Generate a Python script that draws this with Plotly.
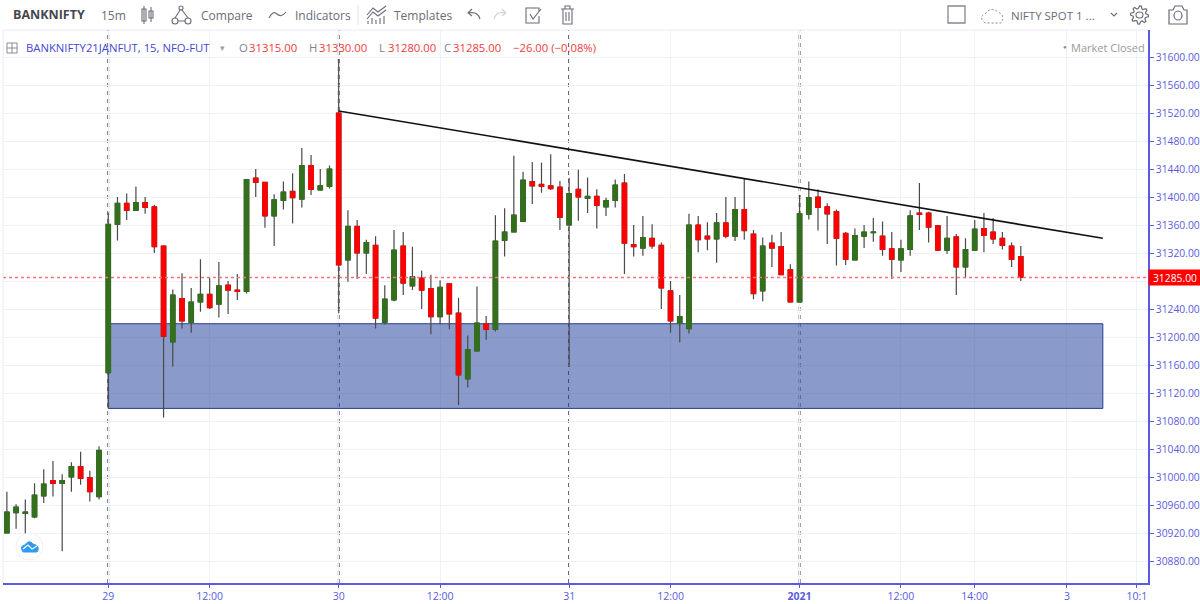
import math
import plotly.graph_objs as go

# candle index, 0 is the first bar of the 29th, one session is 25 bars
bars = list(range(-11, 100))

opens = [30920, 30949, 30948, 30943, 30973, 30995, 30991, 31000, 31015, 30999, 30972,
         31149, 31361, 31391, 31381, 31392, 31386, 31330, 31193, 31255, 31221, 31250, 31261, 31247, 31274, 31267,
         31265, 31427, 31421, 31373, 31395, 31408, 31397, 31445, 31410, 31415,
         31520, 31310, 31358, 31320, 31331, 31221, 31253, 31330, 31273, 31284, 31269, 31229, 31276, 31234, 31140,
         31180, 31219, 31211, 31338, 31350, 31365, 31422, 31418, 31416, 31414, 31360, 31411, 31398, 31401, 31386,
         31395, 31420, 31332, 31327, 31341, 31331, 31266, 31220, 31212,
         31360, 31344, 31340, 31363, 31344, 31382, 31347, 31266, 31334, 31329, 31296, 31250, 31375, 31400, 31386,
         31379, 31348, 31310, 31344, 31349, 31344, 31326, 31310, 31325, 31377, 31377, 31359, 31324, 31343, 31300,
         31324, 31355, 31350, 31341, 31330, 31315]
highs = [30979, 30961, 30968, 30991, 31011, 31023, 31004, 31021, 31036, 31009, 31044,
         31378, 31400, 31405, 31415, 31400, 31389, 31331, 31268, 31291, 31270, 31311, 31285, 31307, 31280, 31290,
         31425, 31440, 31421, 31404, 31422, 31434, 31470, 31460, 31440, 31445,
         31597, 31381, 31367, 31339, 31344, 31274, 31353, 31350, 31329, 31295, 31289, 31281, 31276, 31256, 31202,
         31272, 31230, 31374, 31384, 31459, 31436, 31450, 31449, 31461, 31423, 31427, 31439, 31428, 31411, 31399,
         31425, 31433, 31360, 31373, 31361, 31335, 31280, 31260, 31376,
         31373, 31364, 31377, 31400, 31400, 31426, 31353, 31342, 31346, 31350, 31304, 31403, 31422, 31411, 31391,
         31382, 31350, 31355, 31360, 31370, 31365, 31350, 31339, 31381, 31420, 31379, 31360, 31373, 31347, 31341,
         31367, 31377, 31370, 31350, 31335, 31330]
lows = [30920, 30926, 30918, 30941, 30963, 30972, 30894, 30979, 30989, 30965, 30968,
        31099, 31338, 31367, 31381, 31376, 31320, 31085, 31158, 31212, 31206, 31236, 31240, 31228, 31233, 31253,
        31262, 31400, 31356, 31330, 31382, 31362, 31385, 31403, 31409, 31412,
        31234, 31279, 31283, 31290, 31212, 31218, 31251, 31260, 31267, 31240, 31204, 31218, 31211, 31103, 31128,
        31180, 31196, 31208, 31315, 31350, 31365, 31390, 31406, 31410, 31353, 31157, 31366, 31377, 31355, 31373,
        31385, 31290, 31315, 31316, 31326, 31240, 31206, 31192, 31205,
        31321, 31324, 31306, 31341, 31337, 31339, 31254, 31251, 31300, 31289, 31250, 31250, 31368, 31352, 31333,
        31302, 31303, 31310, 31327, 31336, 31316, 31283, 31293, 31316, 31353, 31335, 31323, 31319, 31260, 31284,
        31324, 31321, 31333, 31325, 31300, 31280]
closes = [30950, 30957, 30950, 30974, 30990, 30991, 30995, 31015, 30998, 30979, 31038,
          31361, 31391, 31381, 31392, 31385, 31329, 31201, 31260, 31223, 31250, 31261, 31242, 31273, 31267, 31265,
          31425, 31421, 31373, 31396, 31407, 31399, 31445, 31411, 31416, 31440,
          31303, 31358, 31320, 31335, 31227, 31254, 31324, 31277, 31286, 31267, 31229, 31271, 31233, 31146, 31182,
          31220, 31211, 31337, 31350, 31374, 31424, 31416, 31415, 31412, 31371, 31405, 31400, 31401, 31388, 31395,
          31417, 31334, 31329, 31342, 31330, 31270, 31223, 31229, 31360,
          31339, 31340, 31363, 31344, 31382, 31352, 31262, 31330, 31327, 31289, 31250, 31376, 31399, 31385, 31376,
          31341, 31311, 31345, 31350, 31350, 31325, 31311, 31326, 31373, 31375, 31357, 31324, 31341, 31300, 31325,
          31354, 31345, 31340, 31331, 31311, 31285]

# body only version, same candles with the wick clipped
body_top = [max(o, c) for o, c in zip(opens, closes)]
body_bottom = [min(o, c) for o, c in zip(opens, closes)]

last_price = 31285
day_starts = [0, 25, 50, 75]
trend_x = [25, 107.9]
trend_y = [31523, 31341]
zone_x = [0, 107.9]
zone_y = [31098, 31219]
x_range = [-11.42, 112.8]
y_range = [30848.6, 31638.6]

x_tickvals = [0, 11, 25, 36, 50, 61, 75, 86, 94, 104, 111.6]
x_ticktext = ['29', '12:00', '30', '12:00', '31', '12:00', '<b>2021</b>', '12:00', '14:00', '3', '10:1']
y_tickvals = list(range(30880, 31640, 40))
# 31280 sits under the red last price tag
y_ticktext = ['' if v == 31280 else '%.2f' % v for v in y_tickvals]

W, H = 1200, 604
ML, MR, MT, MB = 3, 52, 30, 21
BLUE = '#5b5be0'
GREEN = '#33701c'
RED = '#ff0000'
FONT = 'Open Sans'


def px(x):
    return (x - ML) / (W - ML - MR)


def py(y):
    return (H - MB - y) / (H - MT - MB)


def label(x, y, text, color='#6a6d78', size=12, anchor='left'):
    return dict(xref='paper', yref='paper', x=px(x), y=py(y), text=text, showarrow=False,
                xanchor=anchor, yanchor='middle', font=dict(family=FONT, size=size, color=color),
                borderpad=0)


def stroke(path, color='#6a6d78', width=1.1, fill=None, dash=None):
    # toolbar icons, path is given as pixel pairs
    d = ''
    for part in path:
        if isinstance(part, str):
            d += part + ' '
        else:
            d += '%.5f,%.5f ' % (px(part[0]), py(part[1]))
    return dict(type='path', xref='paper', yref='paper', path=d, line=dict(color=color, width=width, dash=dash),
                fillcolor=fill, layer='above')


def box(x0, y0, x1, y1, color='#6a6d78', width=1.1, fill=None):
    return dict(type='rect', xref='paper', yref='paper', x0=px(x0), x1=px(x1), y0=py(y0), y1=py(y1),
                line=dict(color=color, width=width), fillcolor=fill, layer='above')


def dot(x0, y0, x1, y1, color='#6a6d78', width=1.1, fill=None):
    return dict(type='circle', xref='paper', yref='paper', x0=px(x0), x1=px(x1), y0=py(y0), y1=py(y1),
                line=dict(color=color, width=width), fillcolor=fill, layer='above')


def gear(cx, cy, r0, r1):
    path = []
    for k in range(32):
        r = r1 if k % 4 in (0, 1) else r0
        a = 2 * math.pi * k / 32
        path += ['M' if k == 0 else 'L', (cx + r * math.cos(a), cy + r * math.sin(a))]
    return stroke(path + ['Z'], width=1.2)


data = [
    go.Scatter(x=x_range, y=[last_price, last_price], mode='lines',
               line=dict(color='#ff7070', width=1.3, dash='dot'), showlegend=False),
    go.Candlestick(x=bars, open=opens, high=highs, low=lows, close=closes,
                   increasing=dict(line=dict(color='#4a4a4a', width=1.2), fillcolor=GREEN),
                   decreasing=dict(line=dict(color='#4a4a4a', width=1.2), fillcolor=RED),
                   showlegend=False),
    go.Candlestick(x=bars, open=opens, high=body_top, low=body_bottom, close=closes,
                   increasing=dict(line=dict(color=GREEN, width=1), fillcolor=GREEN),
                   decreasing=dict(line=dict(color=RED, width=1), fillcolor=RED),
                   showlegend=False),
    go.Scatter(x=trend_x, y=trend_y, mode='lines', line=dict(color='#111111', width=1.6), showlegend=False),
]

shapes = [
    dict(type='rect', x0=zone_x[0], x1=zone_x[1], y0=zone_y[0], y1=zone_y[1], layer='between',
         fillcolor='rgba(21,53,151,0.5)', line=dict(color='#2a3f8f', width=1)),
    dict(type='line', xref='paper', yref='paper', x0=0, x1=1, y0=1, y1=1, line=dict(color='#e8ecf3', width=1)),
    dict(type='line', xref='paper', yref='paper', x0=0, x1=0, y0=0, y1=1, line=dict(color='#e8ecf3', width=1)),
]
for d in day_starts:
    shapes.append(dict(type='line', x0=d, x1=d, yref='paper', y0=0, y1=1, layer='between',
                       line=dict(color='#2c2c34', width=1.7, dash='4px,4px')))

# toolbar icons
shapes += [
    box(142, 9, 146, 21), stroke(['M', (144, 6), 'L', (144, 24)]),
    box(149, 11, 153, 18), stroke(['M', (151, 7), 'L', (151, 22)]),
    dot(172, 18, 178, 24), dot(185, 18, 191, 24), dot(179, 6, 183, 10),
    stroke(['M', (175, 18), 'L', (180, 10), 'M', (182, 10), 'L', (188, 18), 'M', (178, 21), 'L', (185, 21)]),
    stroke(['M', (269, 18), 'Q', (273, 10), (277, 14), 'T', (286, 12)]),
    stroke(['M', (358, 5), 'L', (358, 25)], color='#e6e6e6'),
    stroke(['M', (367, 15), 'L', (373, 8), 'L', (378, 12), 'L', (386, 6), 'M', (367, 19), 'L', (373, 12),
            'L', (378, 16), 'L', (386, 10), 'M', (368, 24), 'L', (368, 21), 'M', (372, 24), 'L', (372, 18),
            'M', (376, 24), 'L', (376, 20), 'M', (380, 24), 'L', (380, 18), 'M', (384, 24), 'L', (384, 16)]),
    stroke(['M', (472, 9), 'L', (468, 13), 'L', (472, 16), 'M', (468, 13), 'Q', (478, 11), (480, 19)]),
    stroke(['M', (502, 9), 'L', (506, 13), 'L', (502, 16), 'M', (506, 13), 'Q', (496, 11), (494, 19)],
           color='#cfd2d8'),
    stroke(['M', (539, 12), 'L', (539, 8), 'L', (526, 8), 'L', (526, 23), 'L', (539, 23), 'L', (539, 16),
            'M', (530, 14), 'L', (533, 19), 'L', (541, 9)]),
    stroke(['M', (561, 9), 'L', (574, 9), 'M', (565, 9), 'L', (565, 6), 'L', (570, 6), 'L', (570, 9),
            'M', (563, 9), 'L', (563, 24), 'L', (572, 24), 'L', (572, 9), 'M', (566, 12), 'L', (566, 21),
            'M', (569, 12), 'L', (569, 21)]),
    box(948, 6, 965, 23, color='#85888f', width=1.3),
    stroke(['M', (985, 23), 'Q', (978, 17), (985, 14), 'Q', (991, 6), (998, 12), 'Q', (1006, 16), (1001, 23),
            'Z'], color='#85888f', width=1, dash='2px,2px'),
    stroke(['M', (1111, 13), 'L', (1114, 16), 'L', (1117, 13)]),
    gear(1139.5, 15, 6.5, 9), dot(1136, 12, 1143, 18),
    stroke(['M', (1169, 24), 'L', (1169, 10), 'L', (1173, 10), 'L', (1175, 6), 'L', (1182, 6), 'L', (1184, 10),
            'L', (1187, 10), 'L', (1187, 24), 'Z'], width=1.2),
    dot(1174, 11, 1182, 20, width=1.2),
    # legend toggle
    box(7, 43, 17, 53, color='#8a8d96', width=1),
    stroke(['M', (12, 43), 'L', (12, 53), 'M', (7, 48), 'L', (17, 48)], color='#8a8d96', width=1),
    # watermark logo
    dot(16, 533, 43, 560, color='#f0f0f0', width=1, fill='#ffffff'),
    stroke(['M', (23, 552), 'Q', (19, 546), (25, 545), 'Q', (29, 539), (33, 544), 'Q', (41, 546), (37, 552),
            'Z'], color='#2f9bf0', width=1, fill='#2f9bf0'),
    stroke(['M', (23, 549), 'L', (28, 545), 'L', (32, 549), 'L', (37, 546)], color='#ffffff', width=1.2),
]

annotations = [
    label(12, 14, '<b>BANKNIFTY</b>', color='#444750', size=12.5),
    label(100, 15, '15m', size=12),
    label(200, 15, 'Compare', size=12),
    label(294, 15, 'Indicators', size=12),
    label(393, 15, 'Templates', size=12),
    label(1010, 15, 'NIFTY SPOT 1 ...', size=11.5),
    label(25, 48, 'BANKNIFTY21JANFUT, 15, NFO-FUT', color='#4646d2', size=11.3),
    label(219, 48, '▾', color='#a0a0a8', size=9),
    label(238, 48, 'O', color='#80838c', size=11.3),
    label(248, 48, '31315.00', color='#ef3b3b', size=11.3),
    label(308, 48, 'H', color='#80838c', size=11.3),
    label(318, 48, '31330.00', color='#ef3b3b', size=11.3),
    label(378, 48, 'L', color='#80838c', size=11.3),
    label(387, 48, '31280.00', color='#ef3b3b', size=11.3),
    label(443, 48, 'C', color='#80838c', size=11.3),
    label(452, 48, '31285.00', color='#ef3b3b', size=11.3),
    label(512, 48, '−26.00 (−0.08%)', color='#ef3b3b', size=11.3),
    label(1062, 47, '●', color='#8c8c8c', size=6),
    label(1070, 47, 'Market Closed', color='#9a9a9a', size=11),
    dict(xref='paper', yref='paper', x=px(1148), y=py(277.5), xanchor='left', yanchor='middle',
         text='31285.00', showarrow=False, bgcolor=RED, width=52, height=15,
         font=dict(family=FONT, size=10.3, color='#ffffff'), borderpad=0),
]

layout = go.Layout(
    width=W, height=H,
    margin=dict(l=ML, r=MR, t=MT, b=MB, pad=0),
    paper_bgcolor='white', plot_bgcolor='white',
    xaxis=dict(
        range=x_range, rangeslider=dict(visible=False), automargin=False,
        tickmode='array', tickvals=x_tickvals, ticktext=x_ticktext,
        showgrid=True, gridcolor='#eef2f8', gridwidth=1, zeroline=False,
        showline=True, linecolor=BLUE, linewidth=1.5,
        ticks='outside', ticklen=3, tickcolor=BLUE,
        tickfont=dict(family=FONT, size=10.5, color=BLUE),
    ),
    yaxis=dict(
        range=y_range, side='right', automargin=False,
        tickmode='array', tickvals=y_tickvals, ticktext=y_ticktext,
        showgrid=True, gridcolor='#eef2f8', gridwidth=1, zeroline=False,
        showline=True, linecolor=BLUE, linewidth=1.5,
        ticks='outside', ticklen=4, tickcolor=BLUE,
        tickfont=dict(family=FONT, size=10.3, color=BLUE),
    ),
    shapes=shapes,
    annotations=annotations,
)

fig = go.Figure(data=data, layout=layout)
fig.write_html("out.html", config=dict(displayModeBar=False),
               post_script="document.body.style.margin='0';document.body.style.overflow='hidden';")
